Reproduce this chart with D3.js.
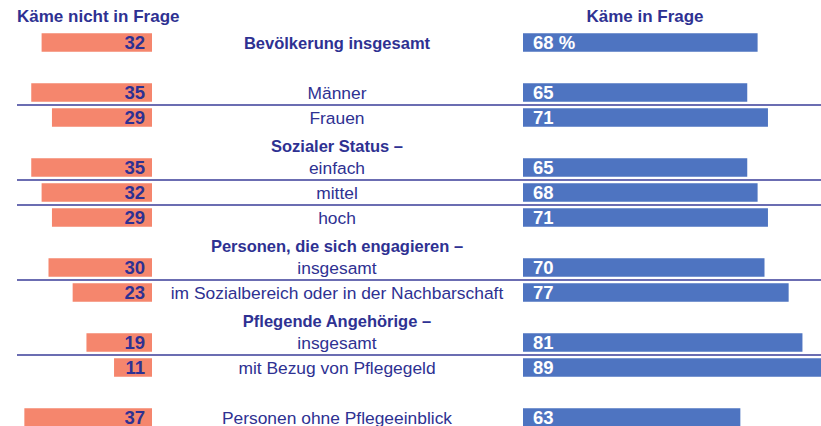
<!DOCTYPE html>
<html>
<head>
<meta charset="utf-8">
<script src="https://cdn.jsdelivr.net/npm/d3@7"></script>
<style>
  body { margin: 0; background: #fff; }
  text { font-family: "Liberation Sans", Arial, sans-serif; }
</style>
</head>
<body>
<script>
// rows from top to bottom, "" = empty spacer row
var rows = ["Bevölkerung insgesamt", "", "Männer", "Frauen",
    "Sozialer Status –", "einfach", "mittel", "hoch",
    "Personen, die sich engagieren –", "insgesamt", "im Sozialbereich oder in der Nachbarschaft",
    "Pflegende Angehörige –", "insgesamt", "mit Bezug von Pflegegeld",
    "", "Personen ohne Pflegeeinblick"];
var kaemeNicht = [32, null, 35, 29, null, 35, 32, 29, null, 30, 23, null, 19, 11, null, 37];
var kaemeIn = [68, null, 65, 71, null, 65, 68, 71, null, 70, 77, null, 81, 89, null, 63];
var headings = ["Bevölkerung insgesamt", "Sozialer Status –", "Personen, die sich engagieren –", "Pflegende Angehörige –"];
var legend = ["Käme nicht in Frage", "Käme in Frage"];

var navy = "#2e3192", salmon = "#f5866d", blue = "#4e74c1";

var svg = d3.select("body")
    .append("svg")
    .attr("width", 821)
    .attr("height", 426)
    .style("display", "block");

var y = d3.scaleBand()
    .domain(d3.range(rows.length))
    .range([30, 430])
    .paddingInner(0.26)
    .paddingOuter(0.13);

var x = d3.scaleLinear()
    .domain([0, 100])
    .range([0, 345]);

var leftEdge = 152, rightStart = 523, labelX = 337;

var data = rows.map(function (r, i) {
    return {i: i, label: r, nicht: kaemeNicht[i], inFrage: kaemeIn[i]};
});

// separator lines between two consecutive rows that both have bars
var gap = (y.step() - y.bandwidth()) / 2;
svg.selectAll(".sep")
    .data(data.filter(function (d) {
        return d.i > 0 && d.nicht != null && kaemeNicht[d.i - 1] != null;
    }))
    .enter()
    .append("line")
    .attr("x1", 17)
    .attr("x2", 821)
    .attr("y1", function (d) { return y(d.i) - gap; })
    .attr("y2", function (d) { return y(d.i) - gap; })
    .attr("stroke", "#3a3c98")
    .attr("stroke-width", 1.3);

var barRows = data.filter(function (d) { return d.nicht != null; });

svg.selectAll(".left")
    .data(barRows)
    .enter()
    .append("rect")
    .attr("x", function (d) { return leftEdge - x(d.nicht); })
    .attr("y", function (d) { return y(d.i); })
    .attr("width", function (d) { return x(d.nicht); })
    .attr("height", y.bandwidth())
    .attr("fill", salmon);

svg.selectAll(".right")
    .data(barRows)
    .enter()
    .append("rect")
    .attr("x", rightStart)
    .attr("y", function (d) { return y(d.i); })
    .attr("width", function (d) { return x(d.inFrage); })
    .attr("height", y.bandwidth())
    .attr("fill", blue);

function mid(d) { return y(d.i) + y.bandwidth() / 2; }

svg.selectAll(".lnum")
    .data(barRows)
    .enter()
    .append("text")
    .attr("x", 145)
    .attr("y", function (d) { return mid(d) + 6.4; })
    .attr("text-anchor", "end")
    .attr("font-size", 18.5)
    .attr("font-weight", "bold")
    .attr("fill", navy)
    .text(function (d) { return d.nicht; });

svg.selectAll(".rnum")
    .data(barRows)
    .enter()
    .append("text")
    .attr("x", 533)
    .attr("y", function (d) { return mid(d) + 6.4; })
    .attr("font-size", 18.5)
    .attr("font-weight", "bold")
    .attr("fill", "#fff")
    .text(function (d, k) { return k === 0 ? d.inFrage + " %" : d.inFrage; });

svg.selectAll(".label")
    .data(data.filter(function (d) { return d.label !== ""; }))
    .enter()
    .append("text")
    .attr("x", labelX)
    .attr("y", function (d) {
        // group headings without bars sit a bit lower in their row
        return mid(d) + (d.nicht == null ? 9 : 6);
    })
    .attr("text-anchor", "middle")
    .attr("fill", navy)
    .attr("font-size", function (d) { return headings.indexOf(d.label) >= 0 ? 16.5 : 17.4; })
    .attr("font-weight", function (d) { return headings.indexOf(d.label) >= 0 ? "bold" : "normal"; })
    .text(function (d) { return d.label; });

svg.append("text")
    .attr("x", 17)
    .attr("y", 22)
    .attr("font-size", 17)
    .attr("font-weight", "bold")
    .attr("fill", navy)
    .text(legend[0]);

svg.append("text")
    .attr("x", 645)
    .attr("y", 22)
    .attr("text-anchor", "middle")
    .attr("font-size", 17)
    .attr("font-weight", "bold")
    .attr("fill", navy)
    .text(legend[1]);
</script>
</body>
</html>
